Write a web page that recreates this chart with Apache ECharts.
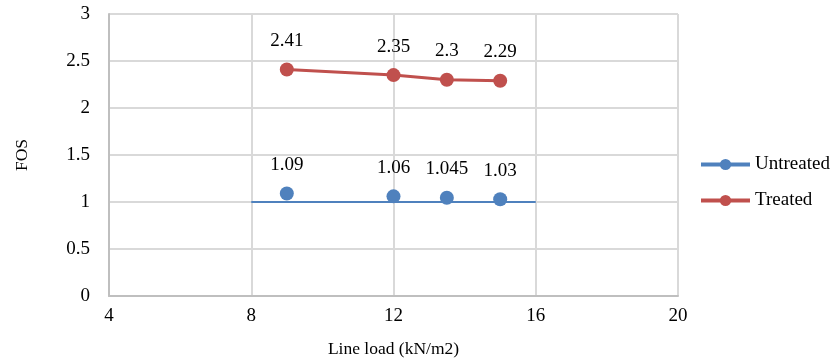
<!DOCTYPE html>
<html>
<head>
<meta charset="utf-8">
<script src="https://cdn.jsdelivr.net/npm/echarts@6/dist/echarts.min.js"></script>
<style>html,body{margin:0;padding:0;background:#fff}#c{width:833px;height:363px}</style>
</head>
<body>
<div id="c"></div>
<script>
const loads = [9, 12, 13.5, 15];
const untreated = [1.09, 1.06, 1.045, 1.03];
const treated = [2.41, 2.35, 2.3, 2.29];
const refLineX = [8, 16];
const refLineY = [1, 1];
const xTicks = {min: 4, max: 20, interval: 4};
const yTicks = {min: 0, max: 3, interval: 0.5};

const blue = '#4F81BD', red = '#C0504D';
const font = '"Liberation Serif", "Times New Roman", serif';
const pair = (xs, ys) => xs.map((x, i) => [x, ys[i]]);
const lbl = {show: true, position: 'top', distance: 12, fontFamily: font, fontSize: 19, color: '#000'};

const chart = echarts.init(document.getElementById('c'), null, {renderer: 'canvas'});
chart.setOption({
  animation: false,
  grid: {left: 109, right: 155, top: 14, bottom: 67},
  legend: {
    orient: 'vertical', left: 694, top: 150, itemWidth: 49, itemHeight: 14, itemGap: 17,
    textStyle: {fontFamily: font, fontSize: 19, color: '#000'},
    data: [
      {name: 'Untreated', lineStyle: {opacity: 1, width: 4, color: blue}},
      {name: 'Treated', lineStyle: {opacity: 1, width: 4, color: red}}
    ]
  },
  xAxis: {
    type: 'value', min: xTicks.min, max: xTicks.max, interval: xTicks.interval,
    name: 'Line load (kN/m2)', nameLocation: 'middle', nameGap: 44,
    nameTextStyle: {fontFamily: font, fontSize: 17.5, color: '#000'},
    axisLine: {show: true, lineStyle: {color: '#BFBFBF', width: 2}},
    axisTick: {show: false},
    axisLabel: {fontFamily: font, fontSize: 19, color: '#000', margin: 11},
    splitLine: {show: true, lineStyle: {color: '#D9D9D9', width: 2}}
  },
  yAxis: {
    type: 'value', min: yTicks.min, max: yTicks.max, interval: yTicks.interval,
    name: 'FOS', nameLocation: 'middle', nameGap: 78, nameRotate: 90,
    nameTextStyle: {fontFamily: font, fontSize: 17.5, color: '#000'},
    axisLine: {show: true, lineStyle: {color: '#BFBFBF', width: 2}},
    axisTick: {show: false},
    axisLabel: {fontFamily: font, fontSize: 19, color: '#000', margin: 19},
    splitLine: {show: true, lineStyle: {color: '#D9D9D9', width: 2}}
  },
  series: [
    {
      name: 'FOS = 1', type: 'line', data: pair(refLineX, refLineY), showSymbol: false,
      lineStyle: {color: blue, width: 2}, itemStyle: {color: blue}, silent: true, z: 1
    },
    {
      name: 'Untreated', type: 'line', data: pair(loads, untreated),
      symbol: 'circle', symbolSize: 14,
      itemStyle: {color: blue}, lineStyle: {width: 0, opacity: 0, color: blue},
      label: lbl, z: 3
    },
    {
      name: 'Treated', type: 'line', data: pair(loads, treated),
      symbol: 'circle', symbolSize: 14,
      itemStyle: {color: red}, lineStyle: {width: 3, color: red},
      label: lbl, z: 3
    }
  ]
});
</script>
</body>
</html>
